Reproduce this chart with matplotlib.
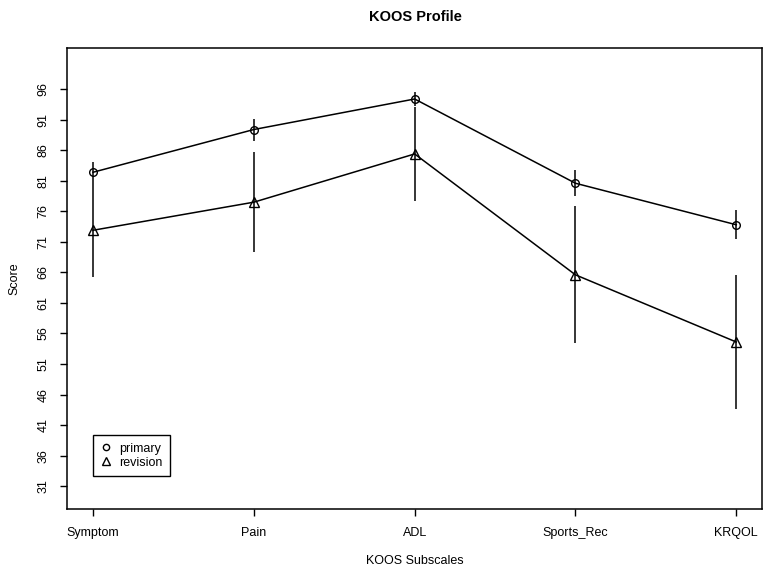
import matplotlib
matplotlib.use("Agg")
import matplotlib.pyplot as plt
from matplotlib.lines import Line2D

plt.rcParams['font.family'] = ['Liberation Sans', 'DejaVu Sans']

categories = ["Symptom", "Pain", "ADL", "Sports_Rec", "KRQOL"]
primary_mean = [82.4, 89.4, 94.4, 80.6, 73.8]
primary_err = [1.7, 1.8, 1.1, 2.1, 2.4]
revision_mean = [72.9, 77.5, 85.4, 65.6, 54.6]
revision_err = [7.7, 8.2, 7.7, 11.2, 11.0]
yticks = list(range(31, 97, 5))

fig = plt.figure(figsize=(7.76, 5.79), dpi=100)
ax = fig.add_axes([67.3/776, 1-509.3/579, (762-67.3)/776, (509.3-47.7)/579])

x = list(range(1, len(categories)+1))

for m, e in [(primary_mean, primary_err), (revision_mean, revision_err)]:
    ax.vlines(x, [a-b for a, b in zip(m, e)], [a+b for a, b in zip(m, e)],
              colors='black', linewidth=1.1)

ax.plot(x, primary_mean, color='black', linewidth=1.1, marker='o', markersize=5.5,
        markerfacecolor='none', markeredgecolor='black', markeredgewidth=1.0)
ax.plot(x, revision_mean, color='black', linewidth=1.1, marker='^', markersize=6.5,
        markerfacecolor='none', markeredgecolor='black', markeredgewidth=1.0)

ax.set_xlim(0.84, 5.16)
ax.set_ylim(27.2, 102.8)
ax.set_xticks(x)
ax.set_xticklabels(categories, fontsize=9)
ax.set_yticks(yticks)
ax.set_yticklabels([str(t) for t in yticks], fontsize=9, rotation=90, va='center')
ax.tick_params(axis='x', length=5, width=1, direction='out', pad=8)
ax.tick_params(axis='y', length=5, width=1, direction='out', pad=8)
for s in ax.spines.values():
    s.set_linewidth(1.1)

ax.set_xlabel("KOOS Subscales", fontsize=9, labelpad=11)
ax.set_ylabel("Score", fontsize=9, labelpad=12)
fig.text(415/776, 1-16.7/579, "KOOS Profile", fontsize=10.5, fontweight='bold',
         ha='center', va='center')

handles = [Line2D([], [], linestyle='none', marker='o', markersize=4.5, markerfacecolor='none',
                  markeredgecolor='black'),
           Line2D([], [], linestyle='none', marker='^', markersize=5.5, markerfacecolor='none',
                  markeredgecolor='black')]
leg = ax.legend(handles, ["primary", "revision"], loc='lower left',
                bbox_to_anchor=(0.0374, 0.0721), borderaxespad=0, fancybox=False,
                edgecolor='black', framealpha=1, fontsize=9, handlelength=0.8,
                handletextpad=0.7, borderpad=0.6, labelspacing=0.15)
leg.get_frame().set_linewidth(1.0)

fig.savefig("out.png", dpi=100)
